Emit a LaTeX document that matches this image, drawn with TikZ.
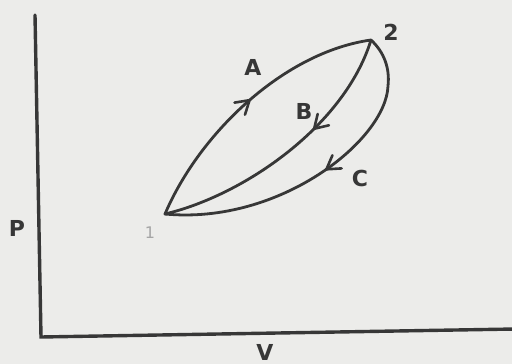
\documentclass[tikz,border=0pt]{standalone}
\usepackage{fontspec}
\setmainfont{DejaVu Sans}
\usetikzlibrary{decorations.markings}
\definecolor{paper}{RGB}{236,236,234}
\definecolor{ink}{RGB}{55,55,55}
\tikzset{
  axis/.style={draw=ink, line width=3.4pt, line cap=round, line join=miter},
  curve/.style={draw=ink, line width=2.8pt, line cap=round},
  lbl/.style={text=ink, font=\bfseries\fontsize{22}{22}\selectfont, inner sep=0pt},
  midarrow/.style={postaction={decorate, decoration={markings,
     mark=at position #1 with {\draw[ink, line width=2.6pt, line cap=round, line join=miter]
        (-13pt,8pt) -- (0pt,0pt) -- (-13pt,-8pt);}}}}
}
\begin{document}
\begin{tikzpicture}[x=1pt,y=-1pt]
\fill[paper] (0,0) rectangle (512,364);
\useasboundingbox (0,0) rectangle (512,364);
% axes
\coordinate (top) at (35,15);
\coordinate (origin) at (41,337);
\coordinate (right) at (515,329);
\draw[axis] (top) -- (origin) -- (right);
% states
\coordinate (s1) at (165,214);
\coordinate (s2) at (371,40);
\coordinate (cmid) at (388,86);
% path A
\draw[curve, midarrow=0.51] (s1) .. controls (200,132) and (285,52) .. (s2);
% path B
\draw[curve, midarrow=0.38] (s2) .. controls (345,125) and (245,195) .. (s1);
% path C
\draw[curve, midarrow=0.48] (s2) .. controls (384,52) and (390,68) .. (cmid)
   .. controls (386,140) and (280,225) .. (s1);
% labels
\node[lbl] (lA) at (253,67) {A};
\node[lbl] (lB) at (304,111) {B};
\node[lbl] (lC) at (360,178) {C};
\node[lbl] (l2) at (391,32) {2};
\node[lbl, text=ink!45, font=\fontsize{16}{16}\selectfont] (l1) at (150,233) {1};
\node[lbl] (lP) at (17,228) {P};
\node[lbl] (lV) at (265,352) {V};
\end{tikzpicture}
\end{document}
